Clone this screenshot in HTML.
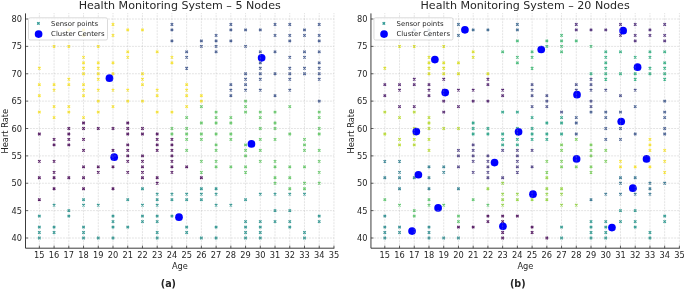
<!DOCTYPE html>
<html><head><meta charset="utf-8"><title>Health Monitoring System</title>
<style>
html,body{margin:0;padding:0;background:#fff;overflow:hidden}
svg{display:block;will-change:transform;transform:translateZ(0)}
text{font-family:"DejaVu Sans","Liberation Sans",sans-serif;fill:#262626}
.ti{font-size:11.1px}
.tl{font-size:8.25px}
.al{font-size:8.25px}
.lt{font-size:6.9px}
.sub{font-size:9.6px;font-weight:bold}
.grid{stroke:#a6a6a6;stroke-width:.55;stroke-dasharray:.55 .95;fill:none}
.spine{stroke:#262626;stroke-width:.9;fill:none}
.tick{stroke:#262626;stroke-width:.7;fill:none}
.pt{stroke-width:1.3;fill:none;opacity:.92}
.leg{fill:#fff;fill-opacity:.8;stroke:#cccccc;stroke-width:.7}
</style></head>
<body>
<svg width="685" height="290" viewBox="0 0 685 290">
<rect width="685" height="290" fill="#fff"/>
<path d="M52.88 187.53l2.4 2.4m0 -2.4l-2.4 2.4M82.34 187.53l2.4 2.4m0 -2.4l-2.4 2.4M111.80 187.53l2.4 2.4m0 -2.4l-2.4 2.4M38.15 198.48l2.4 2.4m0 -2.4l-2.4 2.4M38.15 132.78l2.4 2.4m0 -2.4l-2.4 2.4M67.61 132.78l2.4 2.4m0 -2.4l-2.4 2.4M126.53 132.78l2.4 2.4m0 -2.4l-2.4 2.4M141.26 132.78l2.4 2.4m0 -2.4l-2.4 2.4M155.99 132.78l2.4 2.4m0 -2.4l-2.4 2.4M52.88 138.25l2.4 2.4m0 -2.4l-2.4 2.4M67.61 138.25l2.4 2.4m0 -2.4l-2.4 2.4M82.34 138.25l2.4 2.4m0 -2.4l-2.4 2.4M155.99 138.25l2.4 2.4m0 -2.4l-2.4 2.4M170.72 138.25l2.4 2.4m0 -2.4l-2.4 2.4M52.88 143.73l2.4 2.4m0 -2.4l-2.4 2.4M67.61 143.73l2.4 2.4m0 -2.4l-2.4 2.4M126.53 143.73l2.4 2.4m0 -2.4l-2.4 2.4M155.99 143.73l2.4 2.4m0 -2.4l-2.4 2.4M170.72 143.73l2.4 2.4m0 -2.4l-2.4 2.4M82.34 149.20l2.4 2.4m0 -2.4l-2.4 2.4M111.80 149.20l2.4 2.4m0 -2.4l-2.4 2.4M126.53 149.20l2.4 2.4m0 -2.4l-2.4 2.4M155.99 149.20l2.4 2.4m0 -2.4l-2.4 2.4M170.72 149.20l2.4 2.4m0 -2.4l-2.4 2.4M111.80 154.68l2.4 2.4m0 -2.4l-2.4 2.4M126.53 154.68l2.4 2.4m0 -2.4l-2.4 2.4M141.26 154.68l2.4 2.4m0 -2.4l-2.4 2.4M170.72 154.68l2.4 2.4m0 -2.4l-2.4 2.4M38.15 160.15l2.4 2.4m0 -2.4l-2.4 2.4M52.88 160.15l2.4 2.4m0 -2.4l-2.4 2.4M126.53 160.15l2.4 2.4m0 -2.4l-2.4 2.4M141.26 160.15l2.4 2.4m0 -2.4l-2.4 2.4M170.72 160.15l2.4 2.4m0 -2.4l-2.4 2.4M82.34 165.62l2.4 2.4m0 -2.4l-2.4 2.4M97.07 165.62l2.4 2.4m0 -2.4l-2.4 2.4M111.80 165.62l2.4 2.4m0 -2.4l-2.4 2.4M141.26 165.62l2.4 2.4m0 -2.4l-2.4 2.4M170.72 165.62l2.4 2.4m0 -2.4l-2.4 2.4M185.45 165.62l2.4 2.4m0 -2.4l-2.4 2.4M52.88 171.10l2.4 2.4m0 -2.4l-2.4 2.4M97.07 171.10l2.4 2.4m0 -2.4l-2.4 2.4M126.53 171.10l2.4 2.4m0 -2.4l-2.4 2.4M141.26 171.10l2.4 2.4m0 -2.4l-2.4 2.4M170.72 171.10l2.4 2.4m0 -2.4l-2.4 2.4M38.15 176.58l2.4 2.4m0 -2.4l-2.4 2.4M52.88 176.58l2.4 2.4m0 -2.4l-2.4 2.4M67.61 176.58l2.4 2.4m0 -2.4l-2.4 2.4M82.34 176.58l2.4 2.4m0 -2.4l-2.4 2.4M141.26 176.58l2.4 2.4m0 -2.4l-2.4 2.4M155.99 176.58l2.4 2.4m0 -2.4l-2.4 2.4M200.18 176.58l2.4 2.4m0 -2.4l-2.4 2.4M155.99 182.05l2.4 2.4m0 -2.4l-2.4 2.4M82.34 121.83l2.4 2.4m0 -2.4l-2.4 2.4M126.53 121.83l2.4 2.4m0 -2.4l-2.4 2.4M67.61 127.30l2.4 2.4m0 -2.4l-2.4 2.4M82.34 127.30l2.4 2.4m0 -2.4l-2.4 2.4M97.07 127.30l2.4 2.4m0 -2.4l-2.4 2.4M111.80 127.30l2.4 2.4m0 -2.4l-2.4 2.4M126.53 127.30l2.4 2.4m0 -2.4l-2.4 2.4M141.26 127.30l2.4 2.4m0 -2.4l-2.4 2.4" class="pt" stroke="#440154"/>
<path d="M244.37 78.03l2.4 2.4m0 -2.4l-2.4 2.4M259.10 78.03l2.4 2.4m0 -2.4l-2.4 2.4M288.56 78.03l2.4 2.4m0 -2.4l-2.4 2.4M318.02 78.03l2.4 2.4m0 -2.4l-2.4 2.4M229.64 83.50l2.4 2.4m0 -2.4l-2.4 2.4M244.37 83.50l2.4 2.4m0 -2.4l-2.4 2.4M229.64 88.98l2.4 2.4m0 -2.4l-2.4 2.4M244.37 88.98l2.4 2.4m0 -2.4l-2.4 2.4M259.10 88.98l2.4 2.4m0 -2.4l-2.4 2.4M288.56 88.98l2.4 2.4m0 -2.4l-2.4 2.4M229.64 94.45l2.4 2.4m0 -2.4l-2.4 2.4M273.83 94.45l2.4 2.4m0 -2.4l-2.4 2.4M318.02 99.92l2.4 2.4m0 -2.4l-2.4 2.4M170.72 23.28l2.4 2.4m0 -2.4l-2.4 2.4M229.64 23.28l2.4 2.4m0 -2.4l-2.4 2.4M273.83 23.28l2.4 2.4m0 -2.4l-2.4 2.4M288.56 23.28l2.4 2.4m0 -2.4l-2.4 2.4M318.02 23.28l2.4 2.4m0 -2.4l-2.4 2.4M170.72 28.75l2.4 2.4m0 -2.4l-2.4 2.4M229.64 28.75l2.4 2.4m0 -2.4l-2.4 2.4M244.37 28.75l2.4 2.4m0 -2.4l-2.4 2.4M259.10 28.75l2.4 2.4m0 -2.4l-2.4 2.4M303.29 28.75l2.4 2.4m0 -2.4l-2.4 2.4M214.91 34.23l2.4 2.4m0 -2.4l-2.4 2.4M273.83 34.23l2.4 2.4m0 -2.4l-2.4 2.4M288.56 34.23l2.4 2.4m0 -2.4l-2.4 2.4M303.29 34.23l2.4 2.4m0 -2.4l-2.4 2.4M318.02 34.23l2.4 2.4m0 -2.4l-2.4 2.4M170.72 39.70l2.4 2.4m0 -2.4l-2.4 2.4M200.18 39.70l2.4 2.4m0 -2.4l-2.4 2.4M214.91 39.70l2.4 2.4m0 -2.4l-2.4 2.4M229.64 39.70l2.4 2.4m0 -2.4l-2.4 2.4M288.56 39.70l2.4 2.4m0 -2.4l-2.4 2.4M318.02 39.70l2.4 2.4m0 -2.4l-2.4 2.4M200.18 45.17l2.4 2.4m0 -2.4l-2.4 2.4M214.91 45.17l2.4 2.4m0 -2.4l-2.4 2.4M244.37 45.17l2.4 2.4m0 -2.4l-2.4 2.4M185.45 50.65l2.4 2.4m0 -2.4l-2.4 2.4M214.91 50.65l2.4 2.4m0 -2.4l-2.4 2.4M259.10 50.65l2.4 2.4m0 -2.4l-2.4 2.4M273.83 50.65l2.4 2.4m0 -2.4l-2.4 2.4M303.29 50.65l2.4 2.4m0 -2.4l-2.4 2.4M318.02 50.65l2.4 2.4m0 -2.4l-2.4 2.4M185.45 56.13l2.4 2.4m0 -2.4l-2.4 2.4M259.10 56.13l2.4 2.4m0 -2.4l-2.4 2.4M288.56 56.13l2.4 2.4m0 -2.4l-2.4 2.4M303.29 56.13l2.4 2.4m0 -2.4l-2.4 2.4M259.10 61.60l2.4 2.4m0 -2.4l-2.4 2.4M318.02 61.60l2.4 2.4m0 -2.4l-2.4 2.4M185.45 67.08l2.4 2.4m0 -2.4l-2.4 2.4M259.10 67.08l2.4 2.4m0 -2.4l-2.4 2.4M288.56 67.08l2.4 2.4m0 -2.4l-2.4 2.4M303.29 67.08l2.4 2.4m0 -2.4l-2.4 2.4M318.02 67.08l2.4 2.4m0 -2.4l-2.4 2.4M244.37 72.55l2.4 2.4m0 -2.4l-2.4 2.4M259.10 72.55l2.4 2.4m0 -2.4l-2.4 2.4M273.83 72.55l2.4 2.4m0 -2.4l-2.4 2.4M288.56 72.55l2.4 2.4m0 -2.4l-2.4 2.4M303.29 72.55l2.4 2.4m0 -2.4l-2.4 2.4M318.02 72.55l2.4 2.4m0 -2.4l-2.4 2.4" class="pt" stroke="#3b528b"/>
<path d="M141.26 187.53l2.4 2.4m0 -2.4l-2.4 2.4M200.18 187.53l2.4 2.4m0 -2.4l-2.4 2.4M214.91 187.53l2.4 2.4m0 -2.4l-2.4 2.4M155.99 193.00l2.4 2.4m0 -2.4l-2.4 2.4M170.72 193.00l2.4 2.4m0 -2.4l-2.4 2.4M185.45 193.00l2.4 2.4m0 -2.4l-2.4 2.4M200.18 193.00l2.4 2.4m0 -2.4l-2.4 2.4M214.91 193.00l2.4 2.4m0 -2.4l-2.4 2.4M259.10 193.00l2.4 2.4m0 -2.4l-2.4 2.4M273.83 193.00l2.4 2.4m0 -2.4l-2.4 2.4M288.56 193.00l2.4 2.4m0 -2.4l-2.4 2.4M303.29 193.00l2.4 2.4m0 -2.4l-2.4 2.4M82.34 198.48l2.4 2.4m0 -2.4l-2.4 2.4M126.53 198.48l2.4 2.4m0 -2.4l-2.4 2.4M155.99 198.48l2.4 2.4m0 -2.4l-2.4 2.4M170.72 198.48l2.4 2.4m0 -2.4l-2.4 2.4M185.45 198.48l2.4 2.4m0 -2.4l-2.4 2.4M200.18 198.48l2.4 2.4m0 -2.4l-2.4 2.4M244.37 198.48l2.4 2.4m0 -2.4l-2.4 2.4M52.88 203.95l2.4 2.4m0 -2.4l-2.4 2.4M82.34 203.95l2.4 2.4m0 -2.4l-2.4 2.4M97.07 203.95l2.4 2.4m0 -2.4l-2.4 2.4M141.26 203.95l2.4 2.4m0 -2.4l-2.4 2.4M155.99 203.95l2.4 2.4m0 -2.4l-2.4 2.4M214.91 203.95l2.4 2.4m0 -2.4l-2.4 2.4M229.64 203.95l2.4 2.4m0 -2.4l-2.4 2.4M67.61 209.43l2.4 2.4m0 -2.4l-2.4 2.4M273.83 209.43l2.4 2.4m0 -2.4l-2.4 2.4M288.56 209.43l2.4 2.4m0 -2.4l-2.4 2.4M38.15 214.90l2.4 2.4m0 -2.4l-2.4 2.4M67.61 214.90l2.4 2.4m0 -2.4l-2.4 2.4M111.80 214.90l2.4 2.4m0 -2.4l-2.4 2.4M141.26 214.90l2.4 2.4m0 -2.4l-2.4 2.4M155.99 214.90l2.4 2.4m0 -2.4l-2.4 2.4M170.72 214.90l2.4 2.4m0 -2.4l-2.4 2.4M318.02 214.90l2.4 2.4m0 -2.4l-2.4 2.4M111.80 220.38l2.4 2.4m0 -2.4l-2.4 2.4M141.26 220.38l2.4 2.4m0 -2.4l-2.4 2.4M155.99 220.38l2.4 2.4m0 -2.4l-2.4 2.4M244.37 220.38l2.4 2.4m0 -2.4l-2.4 2.4M259.10 220.38l2.4 2.4m0 -2.4l-2.4 2.4M273.83 220.38l2.4 2.4m0 -2.4l-2.4 2.4M288.56 220.38l2.4 2.4m0 -2.4l-2.4 2.4M318.02 220.38l2.4 2.4m0 -2.4l-2.4 2.4M38.15 225.85l2.4 2.4m0 -2.4l-2.4 2.4M52.88 225.85l2.4 2.4m0 -2.4l-2.4 2.4M82.34 225.85l2.4 2.4m0 -2.4l-2.4 2.4M111.80 225.85l2.4 2.4m0 -2.4l-2.4 2.4M126.53 225.85l2.4 2.4m0 -2.4l-2.4 2.4M185.45 225.85l2.4 2.4m0 -2.4l-2.4 2.4M214.91 225.85l2.4 2.4m0 -2.4l-2.4 2.4M244.37 225.85l2.4 2.4m0 -2.4l-2.4 2.4M259.10 225.85l2.4 2.4m0 -2.4l-2.4 2.4M288.56 225.85l2.4 2.4m0 -2.4l-2.4 2.4M38.15 231.33l2.4 2.4m0 -2.4l-2.4 2.4M52.88 231.33l2.4 2.4m0 -2.4l-2.4 2.4M82.34 231.33l2.4 2.4m0 -2.4l-2.4 2.4M155.99 231.33l2.4 2.4m0 -2.4l-2.4 2.4M185.45 231.33l2.4 2.4m0 -2.4l-2.4 2.4M244.37 231.33l2.4 2.4m0 -2.4l-2.4 2.4M259.10 231.33l2.4 2.4m0 -2.4l-2.4 2.4M303.29 231.33l2.4 2.4m0 -2.4l-2.4 2.4M38.15 236.80l2.4 2.4m0 -2.4l-2.4 2.4M82.34 236.80l2.4 2.4m0 -2.4l-2.4 2.4M97.07 236.80l2.4 2.4m0 -2.4l-2.4 2.4M111.80 236.80l2.4 2.4m0 -2.4l-2.4 2.4M155.99 236.80l2.4 2.4m0 -2.4l-2.4 2.4M200.18 236.80l2.4 2.4m0 -2.4l-2.4 2.4M214.91 236.80l2.4 2.4m0 -2.4l-2.4 2.4M244.37 236.80l2.4 2.4m0 -2.4l-2.4 2.4M259.10 236.80l2.4 2.4m0 -2.4l-2.4 2.4M303.29 236.80l2.4 2.4m0 -2.4l-2.4 2.4" class="pt" stroke="#21918c"/>
<path d="M288.56 187.53l2.4 2.4m0 -2.4l-2.4 2.4M303.29 187.53l2.4 2.4m0 -2.4l-2.4 2.4M170.72 132.78l2.4 2.4m0 -2.4l-2.4 2.4M185.45 132.78l2.4 2.4m0 -2.4l-2.4 2.4M200.18 132.78l2.4 2.4m0 -2.4l-2.4 2.4M214.91 132.78l2.4 2.4m0 -2.4l-2.4 2.4M229.64 132.78l2.4 2.4m0 -2.4l-2.4 2.4M288.56 132.78l2.4 2.4m0 -2.4l-2.4 2.4M318.02 132.78l2.4 2.4m0 -2.4l-2.4 2.4M185.45 138.25l2.4 2.4m0 -2.4l-2.4 2.4M200.18 138.25l2.4 2.4m0 -2.4l-2.4 2.4M229.64 138.25l2.4 2.4m0 -2.4l-2.4 2.4M259.10 138.25l2.4 2.4m0 -2.4l-2.4 2.4M273.83 138.25l2.4 2.4m0 -2.4l-2.4 2.4M303.29 138.25l2.4 2.4m0 -2.4l-2.4 2.4M214.91 143.73l2.4 2.4m0 -2.4l-2.4 2.4M244.37 143.73l2.4 2.4m0 -2.4l-2.4 2.4M303.29 143.73l2.4 2.4m0 -2.4l-2.4 2.4M185.45 149.20l2.4 2.4m0 -2.4l-2.4 2.4M214.91 149.20l2.4 2.4m0 -2.4l-2.4 2.4M244.37 149.20l2.4 2.4m0 -2.4l-2.4 2.4M259.10 149.20l2.4 2.4m0 -2.4l-2.4 2.4M303.29 149.20l2.4 2.4m0 -2.4l-2.4 2.4M318.02 149.20l2.4 2.4m0 -2.4l-2.4 2.4M244.37 154.68l2.4 2.4m0 -2.4l-2.4 2.4M200.18 160.15l2.4 2.4m0 -2.4l-2.4 2.4M214.91 160.15l2.4 2.4m0 -2.4l-2.4 2.4M259.10 160.15l2.4 2.4m0 -2.4l-2.4 2.4M273.83 160.15l2.4 2.4m0 -2.4l-2.4 2.4M318.02 160.15l2.4 2.4m0 -2.4l-2.4 2.4M214.91 165.62l2.4 2.4m0 -2.4l-2.4 2.4M229.64 165.62l2.4 2.4m0 -2.4l-2.4 2.4M244.37 165.62l2.4 2.4m0 -2.4l-2.4 2.4M273.83 165.62l2.4 2.4m0 -2.4l-2.4 2.4M288.56 165.62l2.4 2.4m0 -2.4l-2.4 2.4M303.29 165.62l2.4 2.4m0 -2.4l-2.4 2.4M200.18 171.10l2.4 2.4m0 -2.4l-2.4 2.4M244.37 171.10l2.4 2.4m0 -2.4l-2.4 2.4M318.02 171.10l2.4 2.4m0 -2.4l-2.4 2.4M273.83 176.58l2.4 2.4m0 -2.4l-2.4 2.4M288.56 176.58l2.4 2.4m0 -2.4l-2.4 2.4M273.83 182.05l2.4 2.4m0 -2.4l-2.4 2.4M303.29 182.05l2.4 2.4m0 -2.4l-2.4 2.4M318.02 182.05l2.4 2.4m0 -2.4l-2.4 2.4M244.37 99.92l2.4 2.4m0 -2.4l-2.4 2.4M200.18 105.40l2.4 2.4m0 -2.4l-2.4 2.4M244.37 105.40l2.4 2.4m0 -2.4l-2.4 2.4M288.56 105.40l2.4 2.4m0 -2.4l-2.4 2.4M214.91 110.88l2.4 2.4m0 -2.4l-2.4 2.4M244.37 110.88l2.4 2.4m0 -2.4l-2.4 2.4M259.10 110.88l2.4 2.4m0 -2.4l-2.4 2.4M273.83 110.88l2.4 2.4m0 -2.4l-2.4 2.4M318.02 110.88l2.4 2.4m0 -2.4l-2.4 2.4M185.45 116.35l2.4 2.4m0 -2.4l-2.4 2.4M214.91 116.35l2.4 2.4m0 -2.4l-2.4 2.4M229.64 116.35l2.4 2.4m0 -2.4l-2.4 2.4M259.10 116.35l2.4 2.4m0 -2.4l-2.4 2.4M318.02 116.35l2.4 2.4m0 -2.4l-2.4 2.4M200.18 121.83l2.4 2.4m0 -2.4l-2.4 2.4M214.91 121.83l2.4 2.4m0 -2.4l-2.4 2.4M229.64 121.83l2.4 2.4m0 -2.4l-2.4 2.4M273.83 121.83l2.4 2.4m0 -2.4l-2.4 2.4M170.72 127.30l2.4 2.4m0 -2.4l-2.4 2.4M185.45 127.30l2.4 2.4m0 -2.4l-2.4 2.4M259.10 127.30l2.4 2.4m0 -2.4l-2.4 2.4M273.83 127.30l2.4 2.4m0 -2.4l-2.4 2.4M318.02 127.30l2.4 2.4m0 -2.4l-2.4 2.4" class="pt" stroke="#5ec962"/>
<path d="M67.61 78.03l2.4 2.4m0 -2.4l-2.4 2.4M97.07 78.03l2.4 2.4m0 -2.4l-2.4 2.4M141.26 78.03l2.4 2.4m0 -2.4l-2.4 2.4M38.15 83.50l2.4 2.4m0 -2.4l-2.4 2.4M52.88 83.50l2.4 2.4m0 -2.4l-2.4 2.4M67.61 83.50l2.4 2.4m0 -2.4l-2.4 2.4M82.34 83.50l2.4 2.4m0 -2.4l-2.4 2.4M141.26 83.50l2.4 2.4m0 -2.4l-2.4 2.4M185.45 83.50l2.4 2.4m0 -2.4l-2.4 2.4M52.88 88.98l2.4 2.4m0 -2.4l-2.4 2.4M82.34 88.98l2.4 2.4m0 -2.4l-2.4 2.4M97.07 88.98l2.4 2.4m0 -2.4l-2.4 2.4M111.80 88.98l2.4 2.4m0 -2.4l-2.4 2.4M126.53 88.98l2.4 2.4m0 -2.4l-2.4 2.4M155.99 88.98l2.4 2.4m0 -2.4l-2.4 2.4M185.45 88.98l2.4 2.4m0 -2.4l-2.4 2.4M38.15 94.45l2.4 2.4m0 -2.4l-2.4 2.4M82.34 94.45l2.4 2.4m0 -2.4l-2.4 2.4M155.99 94.45l2.4 2.4m0 -2.4l-2.4 2.4M185.45 94.45l2.4 2.4m0 -2.4l-2.4 2.4M200.18 94.45l2.4 2.4m0 -2.4l-2.4 2.4M97.07 99.92l2.4 2.4m0 -2.4l-2.4 2.4M126.53 99.92l2.4 2.4m0 -2.4l-2.4 2.4M141.26 99.92l2.4 2.4m0 -2.4l-2.4 2.4M200.18 99.92l2.4 2.4m0 -2.4l-2.4 2.4M52.88 105.40l2.4 2.4m0 -2.4l-2.4 2.4M67.61 105.40l2.4 2.4m0 -2.4l-2.4 2.4M111.80 105.40l2.4 2.4m0 -2.4l-2.4 2.4M185.45 105.40l2.4 2.4m0 -2.4l-2.4 2.4M38.15 110.88l2.4 2.4m0 -2.4l-2.4 2.4M67.61 110.88l2.4 2.4m0 -2.4l-2.4 2.4M97.07 110.88l2.4 2.4m0 -2.4l-2.4 2.4M155.99 110.88l2.4 2.4m0 -2.4l-2.4 2.4M170.72 110.88l2.4 2.4m0 -2.4l-2.4 2.4M52.88 116.35l2.4 2.4m0 -2.4l-2.4 2.4M82.34 116.35l2.4 2.4m0 -2.4l-2.4 2.4M111.80 23.28l2.4 2.4m0 -2.4l-2.4 2.4M67.61 28.75l2.4 2.4m0 -2.4l-2.4 2.4M82.34 28.75l2.4 2.4m0 -2.4l-2.4 2.4M126.53 28.75l2.4 2.4m0 -2.4l-2.4 2.4M141.26 28.75l2.4 2.4m0 -2.4l-2.4 2.4M82.34 34.23l2.4 2.4m0 -2.4l-2.4 2.4M111.80 34.23l2.4 2.4m0 -2.4l-2.4 2.4M52.88 45.17l2.4 2.4m0 -2.4l-2.4 2.4M67.61 45.17l2.4 2.4m0 -2.4l-2.4 2.4M97.07 45.17l2.4 2.4m0 -2.4l-2.4 2.4M126.53 50.65l2.4 2.4m0 -2.4l-2.4 2.4M155.99 50.65l2.4 2.4m0 -2.4l-2.4 2.4M82.34 56.13l2.4 2.4m0 -2.4l-2.4 2.4M126.53 56.13l2.4 2.4m0 -2.4l-2.4 2.4M170.72 56.13l2.4 2.4m0 -2.4l-2.4 2.4M82.34 61.60l2.4 2.4m0 -2.4l-2.4 2.4M97.07 61.60l2.4 2.4m0 -2.4l-2.4 2.4M111.80 61.60l2.4 2.4m0 -2.4l-2.4 2.4M170.72 61.60l2.4 2.4m0 -2.4l-2.4 2.4M38.15 67.08l2.4 2.4m0 -2.4l-2.4 2.4M82.34 67.08l2.4 2.4m0 -2.4l-2.4 2.4M97.07 67.08l2.4 2.4m0 -2.4l-2.4 2.4M82.34 72.55l2.4 2.4m0 -2.4l-2.4 2.4M97.07 72.55l2.4 2.4m0 -2.4l-2.4 2.4M111.80 72.55l2.4 2.4m0 -2.4l-2.4 2.4M141.26 72.55l2.4 2.4m0 -2.4l-2.4 2.4" class="pt" stroke="#fde725"/>
<circle cx="109.46" cy="78.13" r="3.85" fill="#0000ff"/>
<circle cx="114.18" cy="157.19" r="3.85" fill="#0000ff"/>
<circle cx="178.99" cy="217.20" r="3.85" fill="#0000ff"/>
<circle cx="251.46" cy="143.88" r="3.85" fill="#0000ff"/>
<circle cx="261.63" cy="57.87" r="3.85" fill="#0000ff"/>
<path d="M39.35 13.4V248.2M54.08 13.4V248.2M68.81 13.4V248.2M83.54 13.4V248.2M98.27 13.4V248.2M113.00 13.4V248.2M127.73 13.4V248.2M142.46 13.4V248.2M157.19 13.4V248.2M171.92 13.4V248.2M186.65 13.4V248.2M201.38 13.4V248.2M216.11 13.4V248.2M230.84 13.4V248.2M245.57 13.4V248.2M260.30 13.4V248.2M275.03 13.4V248.2M289.76 13.4V248.2M304.49 13.4V248.2M319.22 13.4V248.2M333.95 13.4V248.2M25.50 238.00H334.35M25.50 210.62H334.35M25.50 183.25H334.35M25.50 155.88H334.35M25.50 128.50H334.35M25.50 101.12H334.35M25.50 73.75H334.35M25.50 46.38H334.35M25.50 19.00H334.35" class="grid"/>
<path d="M25.50 13.4V248.2H334.35" class="spine"/>
<path d="M39.35 248.2v-2.6M54.08 248.2v-2.6M68.81 248.2v-2.6M83.54 248.2v-2.6M98.27 248.2v-2.6M113.00 248.2v-2.6M127.73 248.2v-2.6M142.46 248.2v-2.6M157.19 248.2v-2.6M171.92 248.2v-2.6M186.65 248.2v-2.6M201.38 248.2v-2.6M216.11 248.2v-2.6M230.84 248.2v-2.6M245.57 248.2v-2.6M260.30 248.2v-2.6M275.03 248.2v-2.6M289.76 248.2v-2.6M304.49 248.2v-2.6M319.22 248.2v-2.6M333.95 248.2v-2.6M25.50 238.00h2.6M25.50 210.62h2.6M25.50 183.25h2.6M25.50 155.88h2.6M25.50 128.50h2.6M25.50 101.12h2.6M25.50 73.75h2.6M25.50 46.38h2.6M25.50 19.00h2.6" class="tick"/>
<text x="39.35" y="257.9" class="tl" text-anchor="middle">15</text>
<text x="54.08" y="257.9" class="tl" text-anchor="middle">16</text>
<text x="68.81" y="257.9" class="tl" text-anchor="middle">17</text>
<text x="83.54" y="257.9" class="tl" text-anchor="middle">18</text>
<text x="98.27" y="257.9" class="tl" text-anchor="middle">19</text>
<text x="113.00" y="257.9" class="tl" text-anchor="middle">20</text>
<text x="127.73" y="257.9" class="tl" text-anchor="middle">21</text>
<text x="142.46" y="257.9" class="tl" text-anchor="middle">22</text>
<text x="157.19" y="257.9" class="tl" text-anchor="middle">23</text>
<text x="171.92" y="257.9" class="tl" text-anchor="middle">24</text>
<text x="186.65" y="257.9" class="tl" text-anchor="middle">25</text>
<text x="201.38" y="257.9" class="tl" text-anchor="middle">26</text>
<text x="216.11" y="257.9" class="tl" text-anchor="middle">27</text>
<text x="230.84" y="257.9" class="tl" text-anchor="middle">28</text>
<text x="245.57" y="257.9" class="tl" text-anchor="middle">29</text>
<text x="260.30" y="257.9" class="tl" text-anchor="middle">30</text>
<text x="275.03" y="257.9" class="tl" text-anchor="middle">31</text>
<text x="289.76" y="257.9" class="tl" text-anchor="middle">32</text>
<text x="304.49" y="257.9" class="tl" text-anchor="middle">33</text>
<text x="319.22" y="257.9" class="tl" text-anchor="middle">34</text>
<text x="333.95" y="257.9" class="tl" text-anchor="middle">35</text>
<text x="22.10" y="241.00" class="tl" text-anchor="end">40</text>
<text x="22.10" y="213.62" class="tl" text-anchor="end">45</text>
<text x="22.10" y="186.25" class="tl" text-anchor="end">50</text>
<text x="22.10" y="158.88" class="tl" text-anchor="end">55</text>
<text x="22.10" y="131.50" class="tl" text-anchor="end">60</text>
<text x="22.10" y="104.12" class="tl" text-anchor="end">65</text>
<text x="22.10" y="76.75" class="tl" text-anchor="end">70</text>
<text x="22.10" y="49.38" class="tl" text-anchor="end">75</text>
<text x="22.10" y="22.00" class="tl" text-anchor="end">80</text>
<text x="179.93" y="268.6" class="al" text-anchor="middle">Age</text>
<text transform="translate(8.30 131.2) rotate(-90)" class="al" text-anchor="middle">Heart Rate</text>
<text x="179.70" y="9.3" class="ti" text-anchor="middle">Health Monitoring System – 5 Nodes</text>
<text x="168.40" y="286.9" class="sub" text-anchor="middle">(a)</text>
<rect x="28.50" y="17.8" width="79" height="22.2" rx="1.6" class="leg"/>
<path d="M37.20 22.20l2.4 2.4m0 -2.4l-2.4 2.4" class="pt" stroke="#21918c"/>
<circle cx="38.60" cy="34.1" r="3.85" fill="#0000ff"/>
<text x="51.10" y="25.6" class="lt">Sensor points</text>
<text x="51.10" y="36.0" class="lt">Cluster Centers</text>
<path d="M486.71 214.90l2.4 2.4m0 -2.4l-2.4 2.4M501.44 214.90l2.4 2.4m0 -2.4l-2.4 2.4M516.17 214.90l2.4 2.4m0 -2.4l-2.4 2.4M486.71 220.38l2.4 2.4m0 -2.4l-2.4 2.4M501.44 220.38l2.4 2.4m0 -2.4l-2.4 2.4M457.25 225.85l2.4 2.4m0 -2.4l-2.4 2.4M471.98 225.85l2.4 2.4m0 -2.4l-2.4 2.4M530.90 225.85l2.4 2.4m0 -2.4l-2.4 2.4M501.44 231.33l2.4 2.4m0 -2.4l-2.4 2.4M530.90 231.33l2.4 2.4m0 -2.4l-2.4 2.4M501.44 236.80l2.4 2.4m0 -2.4l-2.4 2.4M545.63 236.80l2.4 2.4m0 -2.4l-2.4 2.4" class="pt" stroke="#440154"/>
<path d="M413.06 78.03l2.4 2.4m0 -2.4l-2.4 2.4M442.52 78.03l2.4 2.4m0 -2.4l-2.4 2.4M486.71 78.03l2.4 2.4m0 -2.4l-2.4 2.4M383.60 83.50l2.4 2.4m0 -2.4l-2.4 2.4M398.33 83.50l2.4 2.4m0 -2.4l-2.4 2.4M413.06 83.50l2.4 2.4m0 -2.4l-2.4 2.4M427.79 83.50l2.4 2.4m0 -2.4l-2.4 2.4M486.71 83.50l2.4 2.4m0 -2.4l-2.4 2.4M398.33 88.98l2.4 2.4m0 -2.4l-2.4 2.4M427.79 88.98l2.4 2.4m0 -2.4l-2.4 2.4M442.52 88.98l2.4 2.4m0 -2.4l-2.4 2.4M457.25 88.98l2.4 2.4m0 -2.4l-2.4 2.4M471.98 88.98l2.4 2.4m0 -2.4l-2.4 2.4M501.44 88.98l2.4 2.4m0 -2.4l-2.4 2.4M383.60 94.45l2.4 2.4m0 -2.4l-2.4 2.4M427.79 94.45l2.4 2.4m0 -2.4l-2.4 2.4M501.44 94.45l2.4 2.4m0 -2.4l-2.4 2.4M442.52 99.92l2.4 2.4m0 -2.4l-2.4 2.4M471.98 99.92l2.4 2.4m0 -2.4l-2.4 2.4M486.71 99.92l2.4 2.4m0 -2.4l-2.4 2.4M398.33 105.40l2.4 2.4m0 -2.4l-2.4 2.4M413.06 105.40l2.4 2.4m0 -2.4l-2.4 2.4M457.25 105.40l2.4 2.4m0 -2.4l-2.4 2.4M442.52 110.88l2.4 2.4m0 -2.4l-2.4 2.4" class="pt" stroke="#481467"/>
<path d="M575.09 23.28l2.4 2.4m0 -2.4l-2.4 2.4M619.28 23.28l2.4 2.4m0 -2.4l-2.4 2.4M634.01 23.28l2.4 2.4m0 -2.4l-2.4 2.4M663.47 23.28l2.4 2.4m0 -2.4l-2.4 2.4M575.09 28.75l2.4 2.4m0 -2.4l-2.4 2.4M589.82 28.75l2.4 2.4m0 -2.4l-2.4 2.4M604.55 28.75l2.4 2.4m0 -2.4l-2.4 2.4M648.74 28.75l2.4 2.4m0 -2.4l-2.4 2.4M619.28 34.23l2.4 2.4m0 -2.4l-2.4 2.4M634.01 34.23l2.4 2.4m0 -2.4l-2.4 2.4M648.74 34.23l2.4 2.4m0 -2.4l-2.4 2.4M663.47 34.23l2.4 2.4m0 -2.4l-2.4 2.4M634.01 39.70l2.4 2.4m0 -2.4l-2.4 2.4M663.47 39.70l2.4 2.4m0 -2.4l-2.4 2.4" class="pt" stroke="#482576"/>
<path d="M471.98 143.73l2.4 2.4m0 -2.4l-2.4 2.4M457.25 149.20l2.4 2.4m0 -2.4l-2.4 2.4M471.98 149.20l2.4 2.4m0 -2.4l-2.4 2.4M501.44 149.20l2.4 2.4m0 -2.4l-2.4 2.4M516.17 149.20l2.4 2.4m0 -2.4l-2.4 2.4M530.90 149.20l2.4 2.4m0 -2.4l-2.4 2.4M457.25 154.68l2.4 2.4m0 -2.4l-2.4 2.4M471.98 154.68l2.4 2.4m0 -2.4l-2.4 2.4M486.71 154.68l2.4 2.4m0 -2.4l-2.4 2.4M516.17 154.68l2.4 2.4m0 -2.4l-2.4 2.4M471.98 160.15l2.4 2.4m0 -2.4l-2.4 2.4M486.71 160.15l2.4 2.4m0 -2.4l-2.4 2.4M516.17 160.15l2.4 2.4m0 -2.4l-2.4 2.4M457.25 165.62l2.4 2.4m0 -2.4l-2.4 2.4M486.71 165.62l2.4 2.4m0 -2.4l-2.4 2.4M516.17 165.62l2.4 2.4m0 -2.4l-2.4 2.4M530.90 165.62l2.4 2.4m0 -2.4l-2.4 2.4M471.98 171.10l2.4 2.4m0 -2.4l-2.4 2.4M486.71 171.10l2.4 2.4m0 -2.4l-2.4 2.4M516.17 171.10l2.4 2.4m0 -2.4l-2.4 2.4M486.71 176.58l2.4 2.4m0 -2.4l-2.4 2.4M501.44 176.58l2.4 2.4m0 -2.4l-2.4 2.4" class="pt" stroke="#453781"/>
<path d="M589.82 78.03l2.4 2.4m0 -2.4l-2.4 2.4M530.90 83.50l2.4 2.4m0 -2.4l-2.4 2.4M575.09 83.50l2.4 2.4m0 -2.4l-2.4 2.4M589.82 83.50l2.4 2.4m0 -2.4l-2.4 2.4M530.90 88.98l2.4 2.4m0 -2.4l-2.4 2.4M575.09 88.98l2.4 2.4m0 -2.4l-2.4 2.4M589.82 88.98l2.4 2.4m0 -2.4l-2.4 2.4M604.55 88.98l2.4 2.4m0 -2.4l-2.4 2.4M634.01 88.98l2.4 2.4m0 -2.4l-2.4 2.4M530.90 94.45l2.4 2.4m0 -2.4l-2.4 2.4M545.63 94.45l2.4 2.4m0 -2.4l-2.4 2.4M575.09 94.45l2.4 2.4m0 -2.4l-2.4 2.4M619.28 94.45l2.4 2.4m0 -2.4l-2.4 2.4M545.63 99.92l2.4 2.4m0 -2.4l-2.4 2.4M589.82 99.92l2.4 2.4m0 -2.4l-2.4 2.4M530.90 105.40l2.4 2.4m0 -2.4l-2.4 2.4M545.63 105.40l2.4 2.4m0 -2.4l-2.4 2.4M589.82 105.40l2.4 2.4m0 -2.4l-2.4 2.4M560.36 110.88l2.4 2.4m0 -2.4l-2.4 2.4" class="pt" stroke="#404688"/>
<path d="M575.09 132.78l2.4 2.4m0 -2.4l-2.4 2.4M634.01 132.78l2.4 2.4m0 -2.4l-2.4 2.4M663.47 132.78l2.4 2.4m0 -2.4l-2.4 2.4M604.55 138.25l2.4 2.4m0 -2.4l-2.4 2.4M619.28 138.25l2.4 2.4m0 -2.4l-2.4 2.4M663.47 99.92l2.4 2.4m0 -2.4l-2.4 2.4M634.01 105.40l2.4 2.4m0 -2.4l-2.4 2.4M589.82 110.88l2.4 2.4m0 -2.4l-2.4 2.4M604.55 110.88l2.4 2.4m0 -2.4l-2.4 2.4M619.28 110.88l2.4 2.4m0 -2.4l-2.4 2.4M663.47 110.88l2.4 2.4m0 -2.4l-2.4 2.4M575.09 116.35l2.4 2.4m0 -2.4l-2.4 2.4M604.55 116.35l2.4 2.4m0 -2.4l-2.4 2.4M663.47 116.35l2.4 2.4m0 -2.4l-2.4 2.4M575.09 121.83l2.4 2.4m0 -2.4l-2.4 2.4M619.28 121.83l2.4 2.4m0 -2.4l-2.4 2.4M604.55 127.30l2.4 2.4m0 -2.4l-2.4 2.4M619.28 127.30l2.4 2.4m0 -2.4l-2.4 2.4M663.47 127.30l2.4 2.4m0 -2.4l-2.4 2.4" class="pt" stroke="#39558c"/>
<path d="M457.25 23.28l2.4 2.4m0 -2.4l-2.4 2.4M516.17 23.28l2.4 2.4m0 -2.4l-2.4 2.4M413.06 28.75l2.4 2.4m0 -2.4l-2.4 2.4M427.79 28.75l2.4 2.4m0 -2.4l-2.4 2.4M471.98 28.75l2.4 2.4m0 -2.4l-2.4 2.4M486.71 28.75l2.4 2.4m0 -2.4l-2.4 2.4M516.17 28.75l2.4 2.4m0 -2.4l-2.4 2.4M427.79 34.23l2.4 2.4m0 -2.4l-2.4 2.4M457.25 34.23l2.4 2.4m0 -2.4l-2.4 2.4" class="pt" stroke="#33638d"/>
<path d="M634.01 187.53l2.4 2.4m0 -2.4l-2.4 2.4M648.74 187.53l2.4 2.4m0 -2.4l-2.4 2.4M604.55 193.00l2.4 2.4m0 -2.4l-2.4 2.4M619.28 193.00l2.4 2.4m0 -2.4l-2.4 2.4M634.01 193.00l2.4 2.4m0 -2.4l-2.4 2.4M648.74 193.00l2.4 2.4m0 -2.4l-2.4 2.4M589.82 198.48l2.4 2.4m0 -2.4l-2.4 2.4M619.28 176.58l2.4 2.4m0 -2.4l-2.4 2.4M634.01 176.58l2.4 2.4m0 -2.4l-2.4 2.4M619.28 182.05l2.4 2.4m0 -2.4l-2.4 2.4M648.74 182.05l2.4 2.4m0 -2.4l-2.4 2.4M663.47 182.05l2.4 2.4m0 -2.4l-2.4 2.4" class="pt" stroke="#2d718e"/>
<path d="M398.33 187.53l2.4 2.4m0 -2.4l-2.4 2.4M427.79 187.53l2.4 2.4m0 -2.4l-2.4 2.4M457.25 187.53l2.4 2.4m0 -2.4l-2.4 2.4M383.60 160.15l2.4 2.4m0 -2.4l-2.4 2.4M398.33 160.15l2.4 2.4m0 -2.4l-2.4 2.4M427.79 165.62l2.4 2.4m0 -2.4l-2.4 2.4M442.52 165.62l2.4 2.4m0 -2.4l-2.4 2.4M398.33 171.10l2.4 2.4m0 -2.4l-2.4 2.4M442.52 171.10l2.4 2.4m0 -2.4l-2.4 2.4M383.60 176.58l2.4 2.4m0 -2.4l-2.4 2.4M398.33 176.58l2.4 2.4m0 -2.4l-2.4 2.4M413.06 176.58l2.4 2.4m0 -2.4l-2.4 2.4M427.79 176.58l2.4 2.4m0 -2.4l-2.4 2.4" class="pt" stroke="#287d8e"/>
<path d="M383.60 214.90l2.4 2.4m0 -2.4l-2.4 2.4M383.60 225.85l2.4 2.4m0 -2.4l-2.4 2.4M398.33 225.85l2.4 2.4m0 -2.4l-2.4 2.4M427.79 225.85l2.4 2.4m0 -2.4l-2.4 2.4M383.60 231.33l2.4 2.4m0 -2.4l-2.4 2.4M398.33 231.33l2.4 2.4m0 -2.4l-2.4 2.4M427.79 231.33l2.4 2.4m0 -2.4l-2.4 2.4M383.60 236.80l2.4 2.4m0 -2.4l-2.4 2.4M427.79 236.80l2.4 2.4m0 -2.4l-2.4 2.4M442.52 236.80l2.4 2.4m0 -2.4l-2.4 2.4M457.25 236.80l2.4 2.4m0 -2.4l-2.4 2.4" class="pt" stroke="#238a8d"/>
<path d="M619.28 209.43l2.4 2.4m0 -2.4l-2.4 2.4M634.01 209.43l2.4 2.4m0 -2.4l-2.4 2.4M663.47 214.90l2.4 2.4m0 -2.4l-2.4 2.4M589.82 220.38l2.4 2.4m0 -2.4l-2.4 2.4M604.55 220.38l2.4 2.4m0 -2.4l-2.4 2.4M619.28 220.38l2.4 2.4m0 -2.4l-2.4 2.4M634.01 220.38l2.4 2.4m0 -2.4l-2.4 2.4M663.47 220.38l2.4 2.4m0 -2.4l-2.4 2.4M560.36 225.85l2.4 2.4m0 -2.4l-2.4 2.4M589.82 225.85l2.4 2.4m0 -2.4l-2.4 2.4M604.55 225.85l2.4 2.4m0 -2.4l-2.4 2.4M634.01 225.85l2.4 2.4m0 -2.4l-2.4 2.4M589.82 231.33l2.4 2.4m0 -2.4l-2.4 2.4M604.55 231.33l2.4 2.4m0 -2.4l-2.4 2.4M648.74 231.33l2.4 2.4m0 -2.4l-2.4 2.4M560.36 236.80l2.4 2.4m0 -2.4l-2.4 2.4M589.82 236.80l2.4 2.4m0 -2.4l-2.4 2.4M604.55 236.80l2.4 2.4m0 -2.4l-2.4 2.4M648.74 236.80l2.4 2.4m0 -2.4l-2.4 2.4" class="pt" stroke="#1f968b"/>
<path d="M471.98 132.78l2.4 2.4m0 -2.4l-2.4 2.4M486.71 132.78l2.4 2.4m0 -2.4l-2.4 2.4M501.44 132.78l2.4 2.4m0 -2.4l-2.4 2.4M516.17 132.78l2.4 2.4m0 -2.4l-2.4 2.4M530.90 132.78l2.4 2.4m0 -2.4l-2.4 2.4M545.63 132.78l2.4 2.4m0 -2.4l-2.4 2.4M560.36 132.78l2.4 2.4m0 -2.4l-2.4 2.4M501.44 138.25l2.4 2.4m0 -2.4l-2.4 2.4M516.17 138.25l2.4 2.4m0 -2.4l-2.4 2.4M530.90 138.25l2.4 2.4m0 -2.4l-2.4 2.4M545.63 138.25l2.4 2.4m0 -2.4l-2.4 2.4M501.44 143.73l2.4 2.4m0 -2.4l-2.4 2.4M516.17 143.73l2.4 2.4m0 -2.4l-2.4 2.4M501.44 110.88l2.4 2.4m0 -2.4l-2.4 2.4M516.17 110.88l2.4 2.4m0 -2.4l-2.4 2.4M530.90 116.35l2.4 2.4m0 -2.4l-2.4 2.4M560.36 116.35l2.4 2.4m0 -2.4l-2.4 2.4M471.98 121.83l2.4 2.4m0 -2.4l-2.4 2.4M545.63 121.83l2.4 2.4m0 -2.4l-2.4 2.4M560.36 121.83l2.4 2.4m0 -2.4l-2.4 2.4M471.98 127.30l2.4 2.4m0 -2.4l-2.4 2.4M486.71 127.30l2.4 2.4m0 -2.4l-2.4 2.4M516.17 127.30l2.4 2.4m0 -2.4l-2.4 2.4M530.90 127.30l2.4 2.4m0 -2.4l-2.4 2.4" class="pt" stroke="#20a386"/>
<path d="M604.55 78.03l2.4 2.4m0 -2.4l-2.4 2.4M634.01 78.03l2.4 2.4m0 -2.4l-2.4 2.4M663.47 78.03l2.4 2.4m0 -2.4l-2.4 2.4M604.55 50.65l2.4 2.4m0 -2.4l-2.4 2.4M619.28 50.65l2.4 2.4m0 -2.4l-2.4 2.4M648.74 50.65l2.4 2.4m0 -2.4l-2.4 2.4M663.47 50.65l2.4 2.4m0 -2.4l-2.4 2.4M604.55 56.13l2.4 2.4m0 -2.4l-2.4 2.4M634.01 56.13l2.4 2.4m0 -2.4l-2.4 2.4M648.74 56.13l2.4 2.4m0 -2.4l-2.4 2.4M604.55 61.60l2.4 2.4m0 -2.4l-2.4 2.4M663.47 61.60l2.4 2.4m0 -2.4l-2.4 2.4M604.55 67.08l2.4 2.4m0 -2.4l-2.4 2.4M634.01 67.08l2.4 2.4m0 -2.4l-2.4 2.4M648.74 67.08l2.4 2.4m0 -2.4l-2.4 2.4M663.47 67.08l2.4 2.4m0 -2.4l-2.4 2.4M589.82 72.55l2.4 2.4m0 -2.4l-2.4 2.4M604.55 72.55l2.4 2.4m0 -2.4l-2.4 2.4M619.28 72.55l2.4 2.4m0 -2.4l-2.4 2.4M634.01 72.55l2.4 2.4m0 -2.4l-2.4 2.4M648.74 72.55l2.4 2.4m0 -2.4l-2.4 2.4M663.47 72.55l2.4 2.4m0 -2.4l-2.4 2.4" class="pt" stroke="#29af7f"/>
<path d="M560.36 34.23l2.4 2.4m0 -2.4l-2.4 2.4M516.17 39.70l2.4 2.4m0 -2.4l-2.4 2.4M545.63 39.70l2.4 2.4m0 -2.4l-2.4 2.4M560.36 39.70l2.4 2.4m0 -2.4l-2.4 2.4M575.09 39.70l2.4 2.4m0 -2.4l-2.4 2.4M545.63 45.17l2.4 2.4m0 -2.4l-2.4 2.4M560.36 45.17l2.4 2.4m0 -2.4l-2.4 2.4M589.82 45.17l2.4 2.4m0 -2.4l-2.4 2.4M501.44 50.65l2.4 2.4m0 -2.4l-2.4 2.4M530.90 50.65l2.4 2.4m0 -2.4l-2.4 2.4M560.36 50.65l2.4 2.4m0 -2.4l-2.4 2.4M516.17 56.13l2.4 2.4m0 -2.4l-2.4 2.4M530.90 56.13l2.4 2.4m0 -2.4l-2.4 2.4M516.17 61.60l2.4 2.4m0 -2.4l-2.4 2.4M530.90 67.08l2.4 2.4m0 -2.4l-2.4 2.4" class="pt" stroke="#3dbc74"/>
<path d="M383.60 198.48l2.4 2.4m0 -2.4l-2.4 2.4M427.79 198.48l2.4 2.4m0 -2.4l-2.4 2.4M471.98 198.48l2.4 2.4m0 -2.4l-2.4 2.4M398.33 203.95l2.4 2.4m0 -2.4l-2.4 2.4M427.79 203.95l2.4 2.4m0 -2.4l-2.4 2.4M442.52 203.95l2.4 2.4m0 -2.4l-2.4 2.4M486.71 203.95l2.4 2.4m0 -2.4l-2.4 2.4M413.06 209.43l2.4 2.4m0 -2.4l-2.4 2.4M413.06 214.90l2.4 2.4m0 -2.4l-2.4 2.4M457.25 214.90l2.4 2.4m0 -2.4l-2.4 2.4M457.25 220.38l2.4 2.4m0 -2.4l-2.4 2.4" class="pt" stroke="#56c667"/>
<path d="M575.09 138.25l2.4 2.4m0 -2.4l-2.4 2.4M560.36 143.73l2.4 2.4m0 -2.4l-2.4 2.4M589.82 143.73l2.4 2.4m0 -2.4l-2.4 2.4M560.36 149.20l2.4 2.4m0 -2.4l-2.4 2.4M589.82 149.20l2.4 2.4m0 -2.4l-2.4 2.4M604.55 149.20l2.4 2.4m0 -2.4l-2.4 2.4M589.82 154.68l2.4 2.4m0 -2.4l-2.4 2.4M545.63 160.15l2.4 2.4m0 -2.4l-2.4 2.4M560.36 160.15l2.4 2.4m0 -2.4l-2.4 2.4M604.55 160.15l2.4 2.4m0 -2.4l-2.4 2.4M560.36 165.62l2.4 2.4m0 -2.4l-2.4 2.4M575.09 165.62l2.4 2.4m0 -2.4l-2.4 2.4M589.82 165.62l2.4 2.4m0 -2.4l-2.4 2.4M545.63 171.10l2.4 2.4m0 -2.4l-2.4 2.4M589.82 171.10l2.4 2.4m0 -2.4l-2.4 2.4" class="pt" stroke="#75d054"/>
<path d="M486.71 187.53l2.4 2.4m0 -2.4l-2.4 2.4M545.63 187.53l2.4 2.4m0 -2.4l-2.4 2.4M560.36 187.53l2.4 2.4m0 -2.4l-2.4 2.4M501.44 193.00l2.4 2.4m0 -2.4l-2.4 2.4M516.17 193.00l2.4 2.4m0 -2.4l-2.4 2.4M530.90 193.00l2.4 2.4m0 -2.4l-2.4 2.4M545.63 193.00l2.4 2.4m0 -2.4l-2.4 2.4M560.36 193.00l2.4 2.4m0 -2.4l-2.4 2.4M501.44 198.48l2.4 2.4m0 -2.4l-2.4 2.4M516.17 198.48l2.4 2.4m0 -2.4l-2.4 2.4M530.90 198.48l2.4 2.4m0 -2.4l-2.4 2.4M545.63 198.48l2.4 2.4m0 -2.4l-2.4 2.4M501.44 203.95l2.4 2.4m0 -2.4l-2.4 2.4M560.36 203.95l2.4 2.4m0 -2.4l-2.4 2.4M575.09 203.95l2.4 2.4m0 -2.4l-2.4 2.4M545.63 176.58l2.4 2.4m0 -2.4l-2.4 2.4M501.44 182.05l2.4 2.4m0 -2.4l-2.4 2.4" class="pt" stroke="#95d840"/>
<path d="M383.60 132.78l2.4 2.4m0 -2.4l-2.4 2.4M413.06 132.78l2.4 2.4m0 -2.4l-2.4 2.4M398.33 138.25l2.4 2.4m0 -2.4l-2.4 2.4M413.06 138.25l2.4 2.4m0 -2.4l-2.4 2.4M427.79 138.25l2.4 2.4m0 -2.4l-2.4 2.4M398.33 143.73l2.4 2.4m0 -2.4l-2.4 2.4M413.06 143.73l2.4 2.4m0 -2.4l-2.4 2.4M427.79 149.20l2.4 2.4m0 -2.4l-2.4 2.4M383.60 110.88l2.4 2.4m0 -2.4l-2.4 2.4M413.06 110.88l2.4 2.4m0 -2.4l-2.4 2.4M398.33 116.35l2.4 2.4m0 -2.4l-2.4 2.4M427.79 116.35l2.4 2.4m0 -2.4l-2.4 2.4M427.79 121.83l2.4 2.4m0 -2.4l-2.4 2.4M413.06 127.30l2.4 2.4m0 -2.4l-2.4 2.4M427.79 127.30l2.4 2.4m0 -2.4l-2.4 2.4M442.52 127.30l2.4 2.4m0 -2.4l-2.4 2.4M457.25 127.30l2.4 2.4m0 -2.4l-2.4 2.4" class="pt" stroke="#bade28"/>
<path d="M398.33 45.17l2.4 2.4m0 -2.4l-2.4 2.4M413.06 45.17l2.4 2.4m0 -2.4l-2.4 2.4M442.52 45.17l2.4 2.4m0 -2.4l-2.4 2.4M471.98 50.65l2.4 2.4m0 -2.4l-2.4 2.4M427.79 56.13l2.4 2.4m0 -2.4l-2.4 2.4M471.98 56.13l2.4 2.4m0 -2.4l-2.4 2.4M427.79 61.60l2.4 2.4m0 -2.4l-2.4 2.4M442.52 61.60l2.4 2.4m0 -2.4l-2.4 2.4M457.25 61.60l2.4 2.4m0 -2.4l-2.4 2.4M383.60 67.08l2.4 2.4m0 -2.4l-2.4 2.4M427.79 67.08l2.4 2.4m0 -2.4l-2.4 2.4M442.52 67.08l2.4 2.4m0 -2.4l-2.4 2.4M427.79 72.55l2.4 2.4m0 -2.4l-2.4 2.4M442.52 72.55l2.4 2.4m0 -2.4l-2.4 2.4M457.25 72.55l2.4 2.4m0 -2.4l-2.4 2.4M486.71 72.55l2.4 2.4m0 -2.4l-2.4 2.4" class="pt" stroke="#dde318"/>
<path d="M648.74 138.25l2.4 2.4m0 -2.4l-2.4 2.4M648.74 143.73l2.4 2.4m0 -2.4l-2.4 2.4M648.74 149.20l2.4 2.4m0 -2.4l-2.4 2.4M663.47 149.20l2.4 2.4m0 -2.4l-2.4 2.4M619.28 160.15l2.4 2.4m0 -2.4l-2.4 2.4M663.47 160.15l2.4 2.4m0 -2.4l-2.4 2.4M619.28 165.62l2.4 2.4m0 -2.4l-2.4 2.4M634.01 165.62l2.4 2.4m0 -2.4l-2.4 2.4M648.74 165.62l2.4 2.4m0 -2.4l-2.4 2.4M663.47 171.10l2.4 2.4m0 -2.4l-2.4 2.4" class="pt" stroke="#fde725"/>
<circle cx="412.05" cy="231.10" r="3.85" fill="#0000ff"/>
<circle cx="438.12" cy="207.89" r="3.85" fill="#0000ff"/>
<circle cx="502.93" cy="226.34" r="3.85" fill="#0000ff"/>
<circle cx="532.98" cy="194.20" r="3.85" fill="#0000ff"/>
<circle cx="611.94" cy="227.60" r="3.85" fill="#0000ff"/>
<circle cx="632.85" cy="188.18" r="3.85" fill="#0000ff"/>
<circle cx="416.32" cy="131.62" r="3.85" fill="#0000ff"/>
<circle cx="418.38" cy="174.76" r="3.85" fill="#0000ff"/>
<circle cx="494.54" cy="162.55" r="3.85" fill="#0000ff"/>
<circle cx="518.55" cy="131.79" r="3.85" fill="#0000ff"/>
<circle cx="576.58" cy="158.89" r="3.85" fill="#0000ff"/>
<circle cx="646.55" cy="158.89" r="3.85" fill="#0000ff"/>
<circle cx="621.22" cy="121.49" r="3.85" fill="#0000ff"/>
<circle cx="445.19" cy="92.53" r="3.85" fill="#0000ff"/>
<circle cx="577.03" cy="94.72" r="3.85" fill="#0000ff"/>
<circle cx="637.57" cy="67.18" r="3.85" fill="#0000ff"/>
<circle cx="434.88" cy="59.62" r="3.85" fill="#0000ff"/>
<circle cx="464.93" cy="29.79" r="3.85" fill="#0000ff"/>
<circle cx="541.23" cy="49.50" r="3.85" fill="#0000ff"/>
<circle cx="623.13" cy="30.72" r="3.85" fill="#0000ff"/>
<path d="M384.80 13.4V248.2M399.53 13.4V248.2M414.26 13.4V248.2M428.99 13.4V248.2M443.72 13.4V248.2M458.45 13.4V248.2M473.18 13.4V248.2M487.91 13.4V248.2M502.64 13.4V248.2M517.37 13.4V248.2M532.10 13.4V248.2M546.83 13.4V248.2M561.56 13.4V248.2M576.29 13.4V248.2M591.02 13.4V248.2M605.75 13.4V248.2M620.48 13.4V248.2M635.21 13.4V248.2M649.94 13.4V248.2M664.67 13.4V248.2M679.40 13.4V248.2M370.95 238.00H679.80M370.95 210.62H679.80M370.95 183.25H679.80M370.95 155.88H679.80M370.95 128.50H679.80M370.95 101.12H679.80M370.95 73.75H679.80M370.95 46.38H679.80M370.95 19.00H679.80" class="grid"/>
<path d="M370.95 13.4V248.2H679.80" class="spine"/>
<path d="M384.80 248.2v-2.6M399.53 248.2v-2.6M414.26 248.2v-2.6M428.99 248.2v-2.6M443.72 248.2v-2.6M458.45 248.2v-2.6M473.18 248.2v-2.6M487.91 248.2v-2.6M502.64 248.2v-2.6M517.37 248.2v-2.6M532.10 248.2v-2.6M546.83 248.2v-2.6M561.56 248.2v-2.6M576.29 248.2v-2.6M591.02 248.2v-2.6M605.75 248.2v-2.6M620.48 248.2v-2.6M635.21 248.2v-2.6M649.94 248.2v-2.6M664.67 248.2v-2.6M679.40 248.2v-2.6M370.95 238.00h2.6M370.95 210.62h2.6M370.95 183.25h2.6M370.95 155.88h2.6M370.95 128.50h2.6M370.95 101.12h2.6M370.95 73.75h2.6M370.95 46.38h2.6M370.95 19.00h2.6" class="tick"/>
<text x="384.80" y="257.9" class="tl" text-anchor="middle">15</text>
<text x="399.53" y="257.9" class="tl" text-anchor="middle">16</text>
<text x="414.26" y="257.9" class="tl" text-anchor="middle">17</text>
<text x="428.99" y="257.9" class="tl" text-anchor="middle">18</text>
<text x="443.72" y="257.9" class="tl" text-anchor="middle">19</text>
<text x="458.45" y="257.9" class="tl" text-anchor="middle">20</text>
<text x="473.18" y="257.9" class="tl" text-anchor="middle">21</text>
<text x="487.91" y="257.9" class="tl" text-anchor="middle">22</text>
<text x="502.64" y="257.9" class="tl" text-anchor="middle">23</text>
<text x="517.37" y="257.9" class="tl" text-anchor="middle">24</text>
<text x="532.10" y="257.9" class="tl" text-anchor="middle">25</text>
<text x="546.83" y="257.9" class="tl" text-anchor="middle">26</text>
<text x="561.56" y="257.9" class="tl" text-anchor="middle">27</text>
<text x="576.29" y="257.9" class="tl" text-anchor="middle">28</text>
<text x="591.02" y="257.9" class="tl" text-anchor="middle">29</text>
<text x="605.75" y="257.9" class="tl" text-anchor="middle">30</text>
<text x="620.48" y="257.9" class="tl" text-anchor="middle">31</text>
<text x="635.21" y="257.9" class="tl" text-anchor="middle">32</text>
<text x="649.94" y="257.9" class="tl" text-anchor="middle">33</text>
<text x="664.67" y="257.9" class="tl" text-anchor="middle">34</text>
<text x="679.40" y="257.9" class="tl" text-anchor="middle">35</text>
<text x="367.55" y="241.00" class="tl" text-anchor="end">40</text>
<text x="367.55" y="213.62" class="tl" text-anchor="end">45</text>
<text x="367.55" y="186.25" class="tl" text-anchor="end">50</text>
<text x="367.55" y="158.88" class="tl" text-anchor="end">55</text>
<text x="367.55" y="131.50" class="tl" text-anchor="end">60</text>
<text x="367.55" y="104.12" class="tl" text-anchor="end">65</text>
<text x="367.55" y="76.75" class="tl" text-anchor="end">70</text>
<text x="367.55" y="49.38" class="tl" text-anchor="end">75</text>
<text x="367.55" y="22.00" class="tl" text-anchor="end">80</text>
<text x="525.38" y="268.6" class="al" text-anchor="middle">Age</text>
<text transform="translate(353.75 131.2) rotate(-90)" class="al" text-anchor="middle">Heart Rate</text>
<text x="525.10" y="9.3" class="ti" text-anchor="middle">Health Monitoring System – 20 Nodes</text>
<text x="517.80" y="286.9" class="sub" text-anchor="middle">(b)</text>
<rect x="373.95" y="17.8" width="79" height="22.2" rx="1.6" class="leg"/>
<path d="M382.65 22.20l2.4 2.4m0 -2.4l-2.4 2.4" class="pt" stroke="#21918c"/>
<circle cx="384.05" cy="34.1" r="3.85" fill="#0000ff"/>
<text x="396.55" y="25.6" class="lt">Sensor points</text>
<text x="396.55" y="36.0" class="lt">Cluster Centers</text>
</svg>
</body></html>
